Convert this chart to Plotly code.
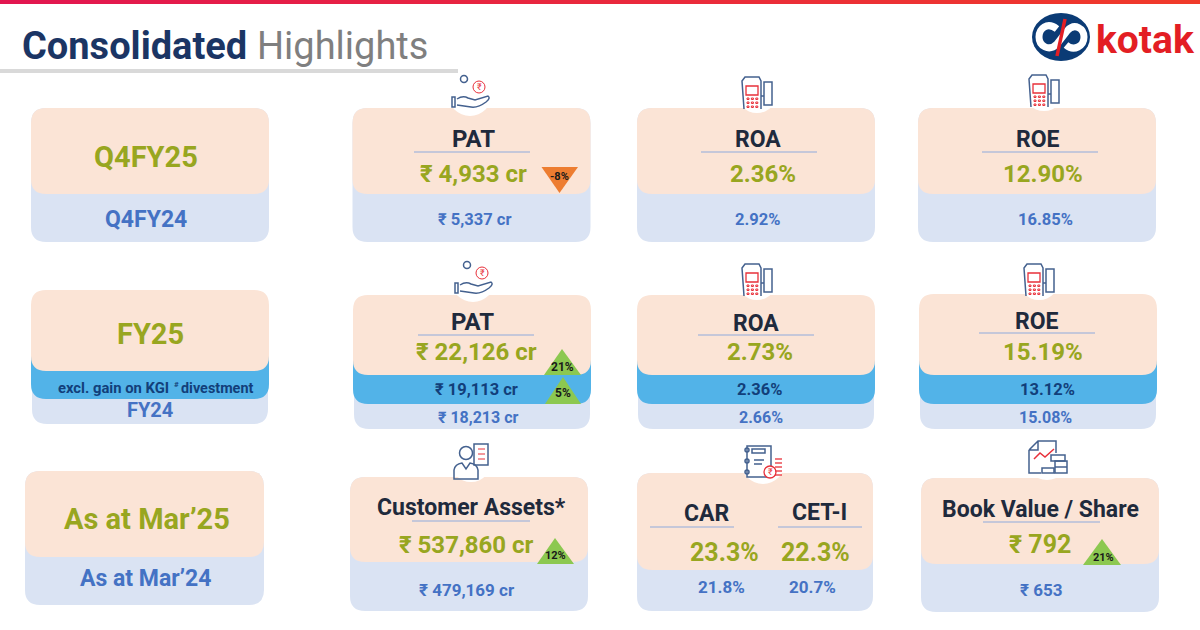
import plotly.graph_objects as go

# ===== TEXTOS / VALORES =====
title_bold = "Consolidated"
title_light = "Highlights"
logo_text = "kotak"

periods_now = ["Q4FY25", "FY25", "As at Mar’25"]
periods_prev = ["Q4FY24", "FY24", "As at Mar’24"]
excl_parts = ["excl. gain on KGI", "#", "divestment"]

q4_names = ["PAT", "ROA", "ROE"]
q4_now = ["₹ 4,933 cr", "2.36%", "12.90%"]
q4_prev = ["₹ 5,337 cr", "2.92%", "16.85%"]
q4_change = "-8%"

fy_names = ["PAT", "ROA", "ROE"]
fy_now = ["₹ 22,126 cr", "2.73%", "15.19%"]
fy_excl = ["₹ 19,113 cr", "2.36%", "13.12%"]
fy_prev = ["₹ 18,213 cr", "2.66%", "15.08%"]
fy_changes = ["21%", "5%"]

mar_names = ["Customer Assets*", "CAR", "CET-I", "Book Value / Share"]
mar_now = ["₹ 537,860 cr", "23.3%", "22.3%", "₹ 792"]
mar_prev = ["₹ 479,169 cr", "21.8%", "20.7%", "₹ 653"]
mar_changes = ["12%", "21%"]

# ===== CORES =====
PEACH = "#FBE4D6"
LIGHT = "#DAE3F3"
MID = "#52B3E8"
OLIVE = "#98A620"
BLUE = "#4472C4"
NAVY = "#123F7A"
DARK = "#1F2A3C"
RULE = "#8FAADC"
GREEN = "#8CC850"
ORANGE = "#ED7D31"
ICON = "#44618F"
RED = "#E8303A"
FONT = "Roboto"

shapes = []
notes = []


def rrect(x0, y0, x1, y1, color, r=15):
    path = (f"M {x0+r} {y0} L {x1-r} {y0} Q {x1} {y0} {x1} {y0+r} L {x1} {y1-r} "
            f"Q {x1} {y1} {x1-r} {y1} L {x0+r} {y1} Q {x0} {y1} {x0} {y1-r} "
            f"L {x0} {y0+r} Q {x0} {y0} {x0+r} {y0} Z")
    shapes.append(dict(type="path", path=path, fillcolor=color, line_width=0))


def stroke(path, color=ICON, width=1.5, fill=None):
    s = dict(type="path", path=path, line=dict(color=color, width=width))
    if fill:
        s["fillcolor"] = fill
    shapes.append(s)


def box(x0, y0, x1, y1, color=ICON, width=1.5, fill=None):
    stroke(f"M {x0} {y0} L {x1} {y0} L {x1} {y1} L {x0} {y1} Z", color, width, fill)


def circle(cx, cy, r, color=ICON, width=1.5, fill="rgba(0,0,0,0)", ry=None):
    ry = ry or r
    shapes.append(dict(type="circle", x0=cx-r, x1=cx+r, y0=cy-ry, y1=cy+ry,
                       line=dict(color=color, width=width), fillcolor=fill))


def text(x, y, s, size, color, bold=True, anchor="center"):
    notes.append(dict(x=x, y=y, text=f"<b>{s}</b>" if bold else s, showarrow=False,
                      xanchor=anchor, yanchor="middle",
                      font=dict(family=FONT, size=size, color=color)))


def rule(x0, x1, y):
    shapes.append(dict(type="line", x0=x0, x1=x1, y0=y, y1=y, line=dict(color=RULE, width=1.2)))


def triangle(x0, x1, apex_x, apex_y, base_y, color):
    shapes.append(dict(type="path", path=f"M {x0} {base_y} L {x1} {base_y} L {apex_x} {apex_y} Z",
                       fillcolor=color, line_width=0))


def card(x0, y0, x1, split, y1):
    rrect(x0, y0, x1, y1, LIGHT)
    rrect(x0, y0, x1, split, PEACH)


def card3(x0, y0, x1, split, mid, y1):
    rrect(x0 + 1, y0 + 40, x1 - 1, y1, LIGHT)
    rrect(x0, y0 + 40, x1, mid, MID)
    rrect(x0, y0, x1, split, PEACH)


def hand_icon(cx, cy):
    circle(cx, cy, 22, "white", 0, "white")
    circle(cx - 6, cy - 15, 3.5)
    circle(cx + 9, cy - 7, 6, RED, 1)
    text(cx + 9, cy - 7, "₹", 9, RED, False)
    box(cx - 18, cy + 3, cx - 15, cy + 13)
    stroke(f"M {cx-13} {cy+5} Q {cx-7} {cy+1} {cx-2} {cy+4} L {cx+5} {cy+6} L {cx+18} {cy+2} "
           f"Q {cx+21} {cy+4} {cx+16} {cy+8} Q {cx+8} {cy+14} {cx+1} {cy+13} L {cx-13} {cy+11}")


def pos_icon(cx, cy):
    circle(cx, cy, 21, "white", 0, "white")
    stroke(f"M {cx-13} {cy+17} L {cx-15} {cy-11} L {cx-12} {cy-15} L {cx+2} {cy-15} "
           f"L {cx+4} {cy-11} L {cx+4} {cy+17}")
    box(cx - 11, cy - 6, cx + 1, cy + 3, RED, 1.3)
    for row in range(3):
        for col in range(3):
            box(cx - 10 + col * 4.4, cy + 6 + row * 4, cx - 8 + col * 4.4, cy + 7.5 + row * 4, RED, 1)
    box(cx + 7, cy - 10, cx + 15, cy + 13)
    stroke(f"M {cx+4} {cy+4} L {cx+7} {cy+4}")


def person_icon(cx, cy):
    circle(cx, cy, 21, "white", 0, "white")
    circle(cx - 5, cy - 8, 6.5)
    stroke(f"M {cx-17} {cy+18} L {cx-17} {cy+9} Q {cx-16} {cy+3} {cx-9} {cy+2} L {cx-5} {cy+8} "
           f"L {cx-1} {cy+2} Q {cx+6} {cy+3} {cx+7} {cy+9} L {cx+7} {cy+18} Z")
    box(cx + 3, cy - 17, cx + 17, cy + 4)
    for dy in (-12, -7, -2):
        stroke(f"M {cx+7} {cy+dy} L {cx+14} {cy+dy}", RED, 1)


def notebook_icon(cx, cy):
    circle(cx, cy, 22, "white", 0, "white")
    box(cx - 16, cy - 16, cx + 8, cy + 15)
    box(cx - 11, cy - 13, cx + 2, cy - 9)
    for dy in (-12, -1, 10):
        circle(cx - 16, cy + dy, 2)
    stroke(f"M {cx-9} {cy-2} L {cx+1} {cy-2} M {cx-9} {cy+2} L {cx-1} {cy+2}")
    circle(cx + 7, cy + 10, 6, RED, 1.3, "white")
    text(cx + 7, cy + 10, "₹", 9, RED, False)
    for dy in (-3, 1, 5, 9, 13):
        stroke(f"M {cx+12} {cy+dy} L {cx+19} {cy+dy}", RED, 1.3)


def report_icon(cx, cy):
    circle(cx, cy, 22, "white", 0, "white")
    stroke(f"M {cx-18} {cy-8} L {cx-9} {cy-17} L {cx+9} {cy-17} L {cx+9} {cy-5} "
           f"M {cx-18} {cy-8} L {cx-18} {cy+15} L {cx-6} {cy+15} M {cx-18} {cy-8} L {cx-9} {cy-8} L {cx-9} {cy-17}")
    stroke(f"M {cx-13} {cy+1} L {cx-7} {cy-5} L {cx-2} {cy-1} L {cx+7} {cy-9}", RED, 1.5)
    box(cx + 4, cy - 3, cx + 18, cy + 3)
    box(cx - 5, cy + 10, cx + 7, cy + 15)
    box(cx + 8, cy + 3, cx + 20, cy + 15)
    stroke(f"M {cx+8} {cy+9} L {cx+20} {cy+9}")


# ===== CABECALHO =====
bar_left, bar_right = (226, 22, 80), (240, 58, 42)
bar_steps = 40
for i in range(bar_steps):
    t = i / (bar_steps - 1)
    rgb = [round(a + (b - a) * t) for a, b in zip(bar_left, bar_right)]
    shapes.append(dict(type="rect", x0=i * 1200 / bar_steps, x1=(i + 1) * 1200 / bar_steps, y0=0, y1=4,
                       fillcolor=f"rgb({rgb[0]},{rgb[1]},{rgb[2]})", line_width=0))
shapes.append(dict(type="line", x0=0, x1=458, y0=71, y1=71, line=dict(color="#D9D9D9", width=4)))
text(20, 46, title_bold, 38, "#1B3564", anchor="left")
text(255, 46, title_light, 38, "#7F7F7F", bold=False, anchor="left")

# logo
circle(1061, 37, 29, "#0B3B75", 0, "#0B3B75", ry=24)
stroke("M 1057 29 C 1047 21, 1039 29, 1039 37 C 1039 46, 1049 52, 1057 44 L 1067 31 "
       "C 1075 22, 1084 29, 1084 37 C 1084 46, 1074 52, 1066 45", "white", 7)
stroke("M 1065 19 L 1057 56", "#E31E24", 3.5)
text(1145, 40, logo_text, 39, "#E31E24")

# ===== LINHA 1 =====
card(31, 108, 269, 194, 242)
text(146, 157, periods_now[0], 29, OLIVE)
text(146, 219, periods_prev[0], 23, BLUE)

q4_x = [(352.5, 590.5), (637, 875), (918, 1156)]
q4_rule = [(414, 530), (701, 817), (982, 1098)]
q4_title_x = [473, 758, 1038]
q4_title_size = [24, 23, 23]
q4_val_x = [473, 763, 1043]
q4_prev_x = [474, 757, 1045]
for i in range(3):
    card(q4_x[i][0], 108, q4_x[i][1], 194, 242)
    text(q4_title_x[i], 139, q4_names[i], q4_title_size[i], DARK)
    rule(q4_rule[i][0], q4_rule[i][1], 152)
    text(q4_val_x[i], 174, q4_now[i], 24, OLIVE)
    text(q4_prev_x[i], 219, q4_prev[i], 16.5, BLUE)
triangle(541.5, 578, 559.5, 193, 167, ORANGE)
text(559, 176, q4_change, 11, "#1A1A1A")
hand_icon(470, 94)
pos_icon(757, 92)
pos_icon(1044, 90)

# ===== LINHA 2 =====
card3(31, 290, 269, 371, 399, 424)
text(150, 334, periods_now[1], 29, OLIVE)
text(171, 388, excl_parts[0], 14.8, NAVY, anchor="right")
text(171.5, 384, excl_parts[1], 8, NAVY, anchor="left")
text(255, 388, excl_parts[2], 14.4, NAVY, anchor="right")
text(150, 410, periods_prev[1], 20, BLUE)

fy_x = [(353, 591), (637, 875), (919, 1157)]
fy_top = [295, 295, 294]
fy_rule = [(418, 534), (698, 814), (979, 1095)]
fy_rule_y = [335, 335, 333]
fy_title_x = [472, 756, 1037]
fy_title_y = [322, 323, 321]
fy_title_size = [24, 23, 23]
fy_val_x = [476, 760, 1043]
fy_excl_x = [476, 759, 1047]
fy_prev_x = [478, 761, 1045]
for i in range(3):
    card3(fy_x[i][0], fy_top[i], fy_x[i][1], 375, 404, 429)
    text(fy_title_x[i], fy_title_y[i], fy_names[i], fy_title_size[i], DARK)
    rule(fy_rule[i][0], fy_rule[i][1], fy_rule_y[i])
    text(fy_val_x[i], 352, fy_now[i], 24, OLIVE)
    text(fy_excl_x[i], 389, fy_excl[i], 16.5, NAVY)
    text(fy_prev_x[i], 417, fy_prev[i], 16, BLUE)
triangle(544, 581, 562, 349, 375, GREEN)
text(562, 367, fy_changes[0], 12, "#1A1A1A")
triangle(545, 581, 563, 377, 404, GREEN)
text(563, 393, fy_changes[1], 12, "#1A1A1A")
hand_icon(473, 280)
pos_icon(757, 279)
pos_icon(1039, 279)

# ===== LINHA 3 =====
card(25, 471, 264, 557, 605)
text(147, 519, periods_now[2], 29, OLIVE)
text(146, 578, periods_prev[2], 23, BLUE)

card(350, 477, 588, 562, 611)
text(471, 507, mar_names[0], 23, DARK)
rule(412, 530, 521)
text(466, 545, mar_now[0], 24, OLIVE)
text(467, 590, mar_prev[0], 17, BLUE)
triangle(537, 574, 555, 538, 564, GREEN)
text(555, 555, mar_changes[0], 11, "#1A1A1A")

card(637, 473, 873, 570, 611)
text(707, 513, mar_names[1], 23, DARK)
text(819, 512, mar_names[2], 23, DARK)
rule(650, 734, 527)
rule(778, 862, 527)
text(724, 552, mar_now[1], 25, OLIVE)
text(815, 552, mar_now[2], 25, OLIVE)
text(721, 587, mar_prev[1], 17, BLUE)
text(812, 587, mar_prev[2], 17, BLUE)

card(921, 478, 1159, 564, 612)
text(1040, 509, mar_names[3], 23, DARK)
rule(983, 1100, 522)
text(1040, 544, mar_now[3], 25, OLIVE)
text(1041, 590, mar_prev[3], 17, BLUE)
triangle(1083, 1121, 1102, 539, 565, GREEN)
text(1103, 557, mar_changes[1], 11, "#1A1A1A")

person_icon(471, 461)
notebook_icon(763, 462)
report_icon(1047, 458)

fig = go.Figure()
fig.update_layout(
    width=1200, height=630,
    margin=dict(l=0, r=0, t=0, b=0),
    paper_bgcolor="white", plot_bgcolor="white",
    xaxis=dict(range=[0, 1200], visible=False, fixedrange=True),
    yaxis=dict(range=[630, 0], visible=False, fixedrange=True),
    shapes=shapes, annotations=notes,
    showlegend=False,
)
fig.write_html("out.html", post_script="document.body.style.margin='0';", config=dict(displayModeBar=False))
